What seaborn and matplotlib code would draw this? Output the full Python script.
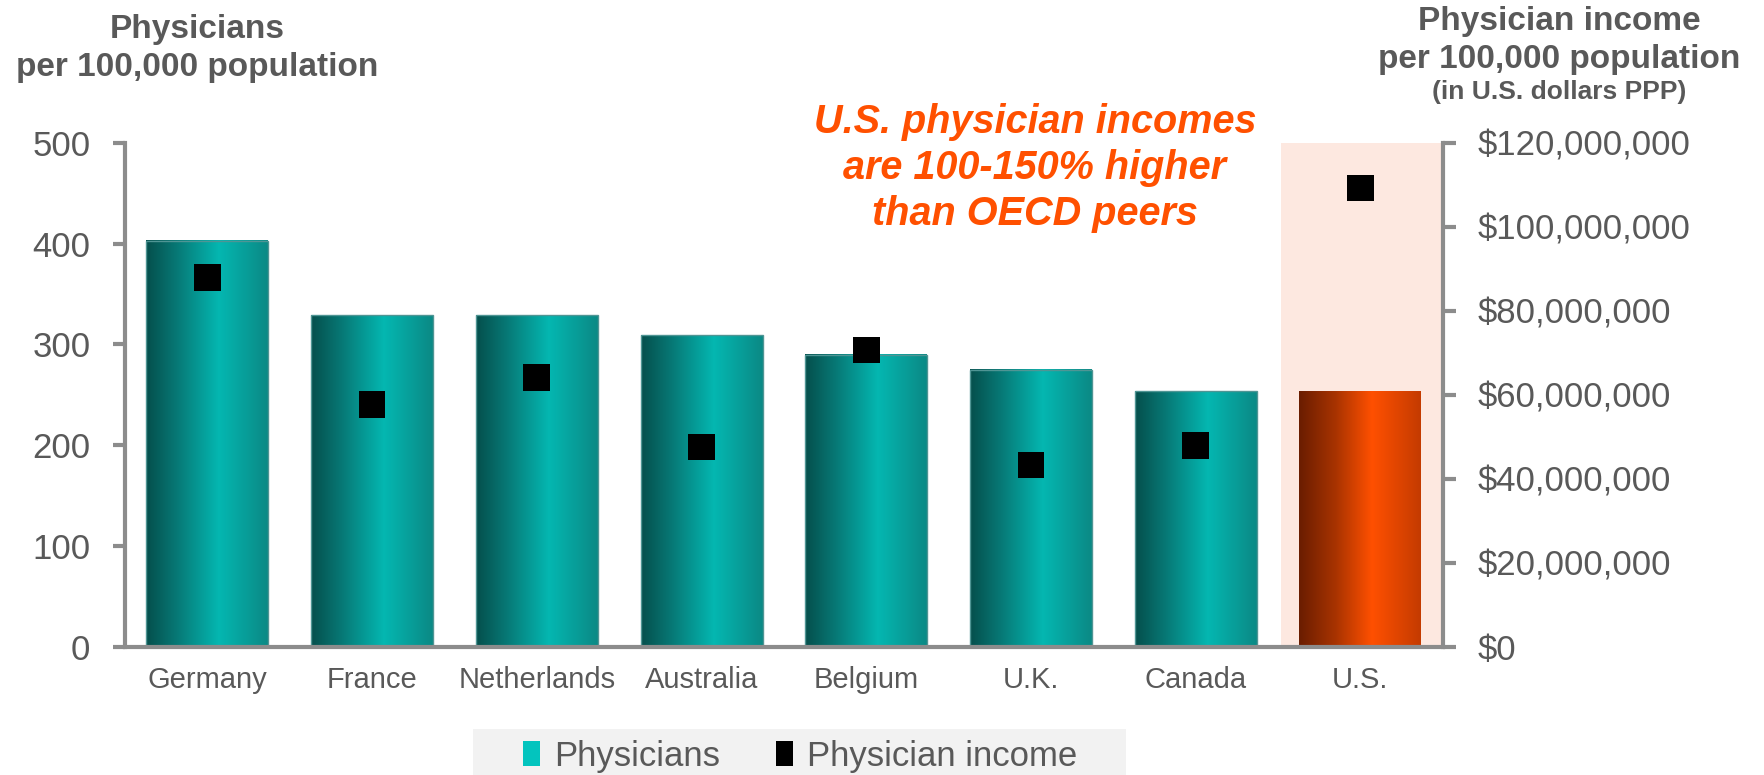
import numpy as np
import pandas as pd
import matplotlib
matplotlib.use("Agg")
import matplotlib.pyplot as plt
from matplotlib.colors import LinearSegmentedColormap
from matplotlib.patches import Rectangle, Patch
from matplotlib.ticker import FuncFormatter
import seaborn as sns

# Data
countries = ["Germany", "France", "Netherlands", "Australia", "Belgium", "U.K.", "Canada", "U.S."]
physicians = [403, 329, 329, 309, 290, 275, 254, 254]
income = [88.0e6, 57.7e6, 64.2e6, 47.6e6, 70.7e6, 43.3e6, 47.9e6, 109.3e6]
left_ticks = [0, 100, 200, 300, 400, 500]
right_ticks = [0, 20e6, 40e6, 60e6, 80e6, 100e6, 120e6]

GREY_TXT = "#595959"
SPINE = "#8c8c8c"
ORANGE = "#ff5000"

sns.set_theme(style="white")
plt.rcParams["font.family"] = ["Liberation Sans", "DejaVu Sans"]

df = pd.DataFrame({"country": countries, "physicians": physicians, "income": income})

fig = plt.figure(figsize=(17.64, 7.75), dpi=100)
ax = fig.add_axes([0.0709, 0.1655, 0.747, 0.65])

sns.barplot(data=df, x="country", y="physicians", order=countries, ax=ax,
            width=0.74, color="#07a39e", saturation=1, edgecolor="#4f9594",
            linewidth=1.0, legend=False)

teal_cmap = LinearSegmentedColormap.from_list(
    "teal", [(0, "#054f4c"), (0.25, "#077875"), (0.6, "#04b7b1"), (1.0, "#0b8985")])
us_cmap = LinearSegmentedColormap.from_list(
    "us", [(0, "#6a1d00"), (0.3, "#a83300"), (0.6, "#ff5000"), (1.0, "#c43b00")])
grad = np.linspace(0, 1, 256).reshape(1, -1)

for i, bar in enumerate(ax.containers[0]):
    x0, w, h = bar.get_x(), bar.get_width(), bar.get_height()
    cmap = us_cmap if countries[i] == "U.S." else teal_cmap
    ax.imshow(grad, cmap=cmap, extent=[x0, x0 + w, 0, h], aspect="auto",
              zorder=2, interpolation="bilinear")
    bar.set_facecolor("none")
    bar.set_zorder(3)
    if countries[i] == "U.S.":
        bar.set_edgecolor("none")

# highlight band behind the U.S. column
us_idx = countries.index("U.S.")
ax.axvspan(us_idx - 0.48, us_idx + 0.5, color="#fde8e0", zorder=0, lw=0)

ax.set_xlim(-0.5, len(countries) - 0.5)
ax.set_ylim(0, 500)
ax.set_yticks(left_ticks)
ax.set_xlabel("")
ax.set_ylabel("")

ax2 = ax.twinx()
sns.scatterplot(x=np.arange(len(countries)), y=df["income"], ax=ax2, marker="s",
                s=370, color="black", edgecolor="none", zorder=5, legend=False)
ax2.set_ylim(0, 120e6)
ax2.set_yticks(right_ticks)
ax2.yaxis.set_major_formatter(FuncFormatter(lambda v, p: "${:,.0f}".format(v)))
ax2.set_ylabel("")
ax2.set_xlim(-0.5, len(countries) - 0.5)

for a in (ax, ax2):
    for s in a.spines.values():
        s.set_visible(False)
ax.spines["left"].set_visible(True)
ax.spines["bottom"].set_visible(True)
ax2.spines["right"].set_visible(True)
for s in (ax.spines["left"], ax.spines["bottom"], ax2.spines["right"]):
    s.set_color(SPINE)
    s.set_linewidth(3)
    s.set_zorder(6)

ax.tick_params(axis="y", which="major", left=True, length=9, width=3, color=SPINE,
               labelsize=25, labelcolor=GREY_TXT, pad=16, direction="out")
ax.tick_params(axis="x", length=0, labelsize=21, labelcolor=GREY_TXT, pad=14)
ax2.tick_params(axis="y", right=True, length=9, width=3, color=SPINE,
                labelsize=25, labelcolor=GREY_TXT, pad=16, direction="out")
ax.grid(False)
ax2.grid(False)

# axis titles
fig.text(0.1117, 0.951, "Physicians", ha="center", va="baseline",
         fontsize=24, fontweight="bold", color=GREY_TXT)
fig.text(0.1117, 0.902, "per 100,000 population", ha="center", va="baseline",
         fontsize=24, fontweight="bold", color=GREY_TXT)
fig.text(0.8838, 0.961, "Physician income", ha="center", va="baseline",
         fontsize=24, fontweight="bold", color=GREY_TXT)
fig.text(0.8838, 0.9123, "per 100,000 population", ha="center", va="baseline",
         fontsize=24, fontweight="bold", color=GREY_TXT)
fig.text(0.8838, 0.8720, "(in U.S. dollars PPP)", ha="center", va="baseline",
         fontsize=19, fontweight="bold", color=GREY_TXT)

# callout
for txt, yb in [("U.S. physician incomes", 0.8284),
                ("are 100-150% higher", 0.7684),
                ("than OECD peers", 0.7097)]:
    fig.text(0.5867, yb, txt, ha="center", va="baseline", fontsize=28.5,
             fontweight="bold", fontstyle="italic", color=ORANGE)

# legend on a light grey band
fig.patches.append(Rectangle((473 / 1764, 0), (1126 - 473) / 1764, 46 / 775,
                             transform=fig.transFigure, facecolor="#f2f2f2",
                             edgecolor="none", zorder=0))
handles = [Patch(facecolor="#03c4be", edgecolor="none", label="Physicians"),
           Patch(facecolor="black", edgecolor="none", label="Physician income")]
fig.legend(handles=handles, loc="center", bbox_to_anchor=(0.4535, 0.0245), ncol=2,
           frameon=False, fontsize=25, labelcolor=GREY_TXT, handlelength=0.5,
           handleheight=0.7, handletextpad=0.4, columnspacing=1.6, borderpad=0)

fig.savefig("out.png", dpi=100)
